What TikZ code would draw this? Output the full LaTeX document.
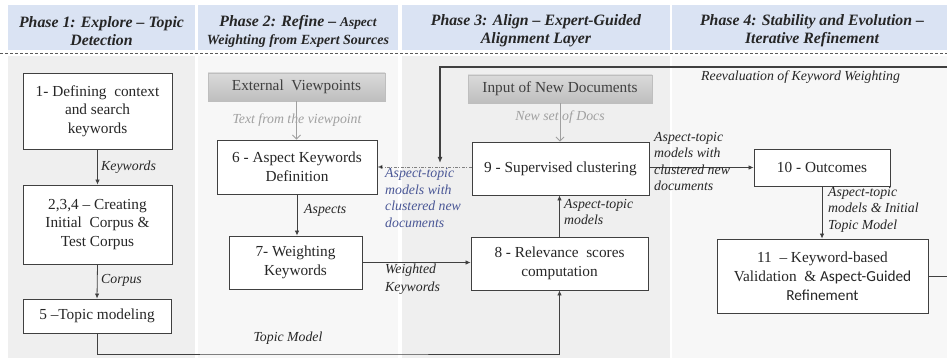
\documentclass[tikz,border=0pt]{standalone}
\usepackage{fontspec}
\setmainfont{Liberation Serif}
\newfontfamily\carl{Carlito}
\usetikzlibrary{arrows.meta}
\definecolor{hdr}{HTML}{DAE3F3}
\definecolor{colA}{HTML}{EFEFEF}
\definecolor{colB}{HTML}{F7F7F7}
\definecolor{boxc}{HTML}{404040}
\definecolor{txt}{HTML}{262626}
\definecolor{lblgrey}{HTML}{A0A0A0}
\definecolor{lblblue}{HTML}{4A5796}
\definecolor{extA}{HTML}{DADADA}
\definecolor{extB}{HTML}{BEBEBE}
\begin{document}
\begin{tikzpicture}[x=1pt,y=-1pt,
  box/.style={draw=boxc, line width=0.9pt, fill=white, align=center, text=txt,
    font=\fontsize{15.3}{18.5}\selectfont, inner sep=0pt},
  extbox/.style={draw=extB, line width=0.8pt, top color=extA, bottom color=extB,
    align=center, text=boxc, font=\fontsize{15.3}{18.5}\selectfont, inner sep=0pt},
  hdrtext/.style={align=center, text=txt, font=\fontsize{15.8}{18}\bfseries\itshape},
  lbl/.style={align=left, text=txt, font=\fontsize{13.8}{16.5}\itshape, inner sep=0pt},
  arr/.style={draw=boxc, line width=0.8pt, -{Latex[length=5pt,width=4.5pt]}},
  greyarr/.style={draw=lblgrey, line width=0.8pt, -{Straight Barb[length=4pt,width=8pt]}},
  fbline/.style={draw=boxc, line width=1.3pt},
  fbarr/.style={draw=boxc, line width=1.3pt, -{Latex[length=6pt,width=5pt]}},
  dotarr/.style={draw=gray, line width=0.6pt, dash pattern=on 3pt off 1.5pt on 0.8pt off 1.5pt,
    -{Latex[length=5pt,width=4.5pt,fill=black]}}
]
\useasboundingbox (0,0) rectangle (947,358);
\fill[white] (0,0) rectangle (947,358);
% column backgrounds
\fill[colA] (8,56) rectangle (195,358);
\fill[colB] (198,56) rectangle (398,358);
\fill[colA] (402,56) rectangle (670,358);
\fill[colB] (672,56) rectangle (947,358);
% headers
\fill[hdr] (8,5) rectangle (195,50);
\fill[hdr] (198,5) rectangle (398,50);
\fill[hdr] (402,5) rectangle (670,50);
\fill[hdr] (672,5) rectangle (947,50);
\draw[gray!70!black, line width=0.7pt, dash pattern=on 3pt off 2pt] (0,53) -- (947,53);
\node[hdrtext] (h1) at (101.5,31) {Phase 1: Explore -- Topic\\Detection};
\node[hdrtext] (h2) at (298,31) {Phase 2: Refine -- {\fontsize{13.4}{18}\selectfont Aspect}\\{\fontsize{14}{18}\selectfont Weighting from Expert Sources}};
\node[hdrtext] (h3) at (536,31) {Phase 3: Align -- Expert-Guided\\Alignment Layer};
\node[hdrtext] (h4) at (812,31) {Phase 4: Stability and Evolution --\\Iterative Refinement};
% boxes
\node[box, minimum width=149pt, minimum height=76pt] (b1) at (97.5,111) {1- Defining\ \ context\\and search\\keywords};
\node[box, minimum width=149pt, minimum height=79pt] (b2) at (97.5,224.5) {2,3,4 -- Creating\\Initial\ \ Corpus \&\\Test Corpus};
\node[box, minimum width=148pt, minimum height=34pt] (b5) at (97,316) {5 --Topic modeling};
\node[extbox, minimum width=177pt, minimum height=28pt] (ext) at (296.5,87) {External\ \ Viewpoints};
\node[box, minimum width=160pt, minimum height=54pt] (b6) at (297,167) {6 - Aspect Keywords\\Definition};
\node[box, minimum width=133pt, minimum height=53pt] (b7) at (295.5,262.5) {7- Weighting\\Keywords};
\node[extbox, minimum width=184pt, minimum height=28pt] (inp) at (560,89) {Input of New Documents};
\node[box, minimum width=177pt, minimum height=53pt] (b9) at (560.5,168.5) {9 - Supervised clustering};
\node[box, minimum width=177pt, minimum height=53pt] (b8) at (559.5,263.5) {8 - Relevance\ \ scores\\computation};
\node[box, minimum width=136pt, minimum height=37pt] (b10) at (822,167.5) {10 - Outcomes};
\node[box, minimum width=211pt, minimum height=74pt, font=\fontsize{15.3}{19}\selectfont] (b11) at (822.5,276) {11\ \ -- Keyword-based\\Validation\ \ \& {\carl Aspect-Guided}\\{\carl Refinement}};
% coordinates
\coordinate (tm) at (300,354);
\coordinate (edgeB) at (948,276);
\coordinate (edgeT) at (948,67);
\coordinate (fbend) at (440,163);
% connectors
\draw[arr] (b1.south) -- (b2.north);
\draw[arr] (b2.south) -- (b5.north);
\draw[arr] (b5.south) |- (tm) -| (b8.south);
\draw[greyarr] (ext.south) -- (ext.south |- b6.north);
\draw[arr] (b6.south) -- (b6.south |- b7.north);
\draw[arr] (b7.east) -- (b7.east -| b8.west);
\draw[greyarr] (inp.south) -- (inp.south |- b9.north);
\draw[arr] (b8.north) -- (b8.north |- b9.south);
\draw[dotarr] (b9.west |- b6.east) -- (b6.east);
\draw[arr] (b9.east |- b10.west) -- (b10.west);
\draw[arr] (b10.south) -- (b10.south |- b11.north);
\draw[fbline, line width=0.9pt] (b11.east) -- (edgeB);
\draw[fbarr] (edgeT) -| (fbend);
% labels
\node[lbl, anchor=west] (lk) at (101,167) {Keywords};
\node[lbl, anchor=west] (lc) at (101,280) {Corpus};
\node[lbl] (ltm) at (288,338) {Topic Model};
\node[lbl, text=lblgrey] (ltv) at (297,120) {Text from the viewpoint};
\node[lbl, anchor=west] (las) at (304,210) {Aspects};
\node[lbl, anchor=north west, font=\fontsize{13.8}{18}\itshape] (lwk) at (385,264) {Weighted\\Keywords};
\node[lbl, text=lblgrey] (lns) at (560,117) {New set of Docs};
\node[lbl, anchor=north west] (lat) at (564,199) {Aspect-topic\\models};
\node[lbl, anchor=north west, text=lblblue] (lbl1) at (385,168.5) {Aspect-topic\\models with\\clustered new\\documents};
\node[lbl, anchor=north west] (lbl2) at (654,132) {Aspect-topic\\models with\\clustered new\\documents};
\node[lbl, anchor=north west] (lbl3) at (828,187) {Aspect-topic\\models \& Initial\\Topic Model};
\node[lbl, anchor=west] (lre) at (701,77) {Reevaluation of Keyword Weighting};
\end{tikzpicture}
\end{document}
